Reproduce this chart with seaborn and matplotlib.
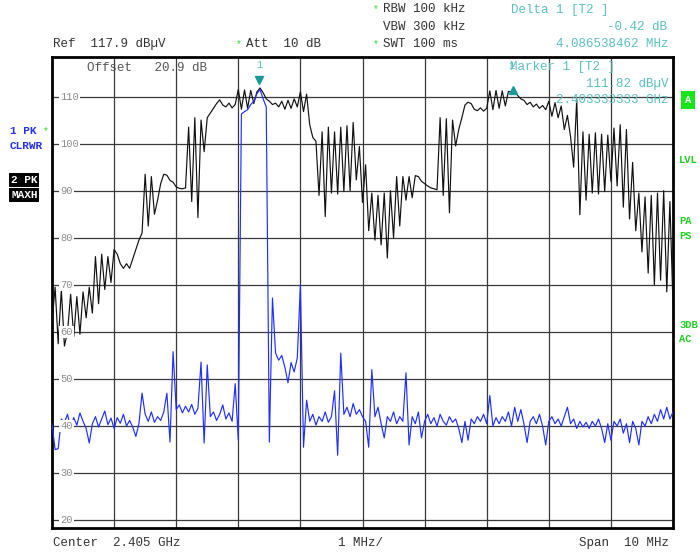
import numpy as np
import pandas as pd
import matplotlib
matplotlib.use("Agg")
import matplotlib.pyplot as plt
import seaborn as sns

sns.set_theme(style="white")
plt.rcParams['font.family'] = ['Liberation Mono', 'DejaVu Sans Mono']

# ---- sweep settings -------------------------------------------------------
center_ghz = 2.405
span_mhz = 10.0
n_points = 201
db_ticks = [110, 100, 90, 80, 70, 60, 50, 40, 30, 20]

# trace 2: peak detector, max hold (dBµV)
maxhold_dbuv = [
    62, 69.5, 57.5, 69, 57, 60, 68, 59, 67.5, 59.5,
    68.5, 63, 69.5, 64, 76, 66, 76.5, 69, 76, 70.5,
    77.5, 76.5, 74.5, 73.5, 74.5, 73.5, 75.5, 77.5, 79.5, 81,
    93.5, 82.5, 93, 85, 88, 91.5, 93.5, 93.3, 92.2, 91.8,
    90.8, 90.5, 90.4, 90.6, 103.5, 87.7, 105.5, 84.3, 105, 98.3,
    105.5, 106.5, 107.5, 108.5, 109.3, 108.2, 107.8, 108.6, 107.6, 108.3,
    111.5, 107.3, 111.4, 107.5, 111.3, 108.5, 111, 111.82, 110.8, 109.5,
    109, 108.3, 108.6, 107.8, 109, 107.3, 109.2, 107.5, 109.5, 107.8,
    111, 106.8, 110.5, 104, 101.3, 100.5, 89, 102.5, 84.5, 103.5,
    89.5, 102.5, 89.3, 103.5, 89.8, 103.8, 90, 104.5, 92.3, 99.4,
    87.5, 95.5, 81.5, 89.5, 79.5, 89, 78.5, 89.5, 75.7, 90,
    80, 93, 82.5, 93, 88, 93, 88.5, 93.2, 93, 92,
    91.5, 91, 90.6, 90.4, 90.2, 105.5, 89, 105.3, 85.3, 105,
    99.5, 103, 105.5, 108.2, 108.8, 108.5, 107.3, 107, 107.6, 106.9,
    107.5, 111.2, 107.2, 111.3, 107.5, 111.2, 108, 111.1, 110.9, 111.4,
    110.2, 109.5, 109.2, 108.3, 108.8, 107.8, 108.4, 107.5, 108.1, 107.2,
    109, 105.8, 108.7, 105.5, 108, 103, 106, 101.5, 95, 109.5,
    84.9, 102.5, 88, 102, 89.5, 102.3, 89.3, 102, 89.8, 101.8,
    92, 103.3, 91, 104, 86.5, 103, 84, 96, 81.5, 89.5,
    77, 88.7, 72.5, 89, 70, 89.5, 71, 90, 68.5, 87.7, 65.5,
]

# trace 1: peak detector, clear/write (dBµV)
clrwr_dbuv = [
    40.5, 35, 35.2, 41.5, 40.8, 42.5, 39.5, 41.8, 40.2, 42.8,
    41, 39.5, 36.4, 40.5, 42, 39.8, 41.5, 43.2, 40.3, 41.7,
    39.5, 41.8, 40.6, 42.5, 40, 41.2, 39.8, 37.8, 40.5, 47,
    42.5, 41, 43, 40.8, 42, 41.2, 43, 47, 36.6, 55.8,
    43.5, 44.5, 42.8, 44.2, 43, 44.6, 42.5, 43.8, 53.6, 36.4,
    53, 42, 43, 41.2, 42.5, 44.5, 41.5, 42.8, 41, 49,
    37, 106.3, 106.8, 107.2, 108.3, 109, 110.6, 111.5, 109.5, 107.8,
    36.6, 67.2, 55.5, 54, 55, 52.5, 49.2, 53.5, 51.5, 54.5,
    70, 35.5, 45.5, 41, 42.5, 40.2, 42, 41, 43, 40.8,
    42, 47.5, 33.8, 55.5, 42.5, 44, 42, 44.8, 42.5, 43.5,
    42, 41, 35.5, 52, 42, 44, 40.5, 37.5, 42, 41,
    43, 40.5, 42, 41, 51.3, 36, 42, 40.5, 43, 37.5,
    41, 42.5, 40.5, 41.8, 40, 42.5, 41, 40.2, 42, 40.8,
    41.5, 39.5, 36.5, 41, 37, 41.5, 40.5, 42, 41, 42.5,
    40.5, 46.5, 40, 41.8, 40.5, 42, 41, 43, 40, 44,
    41, 43.5, 40.5, 36.5, 41, 42, 40.5, 42.5, 40, 36,
    41, 42, 40.5, 41.5, 40, 42, 44, 40.5, 41.5, 39.5,
    41, 39.8, 40.8, 39.5, 41, 40, 41.5, 39.5, 36.5, 40.5,
    37, 41, 40, 41.5, 38.5, 40.5, 36.5, 41, 39.5, 36,
    41, 40, 42, 40.5, 42.5, 41, 43.5, 41.5, 44, 41.5, 43,
]

# marker readouts
marker1_mhz = 3.333333333      # 2.403333333 GHz
marker1_level = 111.82
delta1_mhz = 4.086538462
delta1_db = -0.42

freq_mhz = np.linspace(0.0, span_mhz, n_points)
df = pd.concat([
    pd.DataFrame({"f": freq_mhz, "level": clrwr_dbuv, "trace": "1 CLRWR"}),
    pd.DataFrame({"f": freq_mhz, "level": maxhold_dbuv, "trace": "2 MAXH"}),
])

W, H = 700, 553
fig = plt.figure(figsize=(W / 100, H / 100), dpi=100)
ax = fig.add_axes([52 / W, 25 / H, 621 / W, 471 / H])


def fx(px):
    return px / W


def fy(py):
    return 1 - py / H


# graticule
for k in range(1, 10):
    ax.axvline(k, color="#3a3a3a", lw=0.9, zorder=1)
for v in db_ticks:
    ax.axhline(v, color="#3a3a3a", lw=0.9, zorder=1)

sns.lineplot(data=df, x="f", y="level", hue="trace", sort=False,
             estimator=None, palette={"1 CLRWR": "#1f2fff", "2 MAXH": "#111111"},
             hue_order=["2 MAXH", "1 CLRWR"], lw=0.85, legend=False, ax=ax,
             zorder=3)

ax.set_xlim(0, span_mhz)
ax.set_ylim(18.35, 118.4)
ax.set_xticks([])
ax.set_yticks([])
ax.set_xlabel("")
ax.set_ylabel("")
for s in ax.spines.values():
    s.set_color("black")
    s.set_linewidth(2.0)

# level scale written inside the graticule
for v in db_ticks:
    ax.text(0.013, v, str(v), transform=ax.get_yaxis_transform(),
            ha="left", va="center", fontsize=7.5, color="#8a8a8a", zorder=4,
            bbox=dict(facecolor="white", edgecolor="none", pad=0.8))

# markers
teal_dark = "#169a9a"
teal_text = "#5cc0c0"
ax.plot([marker1_mhz], [marker1_level + 1.6], marker="v", ms=6,
        color=teal_dark, zorder=5)
ax.text(marker1_mhz, marker1_level + 4.8, "1", ha="center", va="center",
        fontsize=7.5, color=teal_text, zorder=5)
ax.plot([marker1_mhz + delta1_mhz], [marker1_level + delta1_db], marker="^",
        ms=6, color=teal_dark, zorder=5)
ax.text(marker1_mhz + delta1_mhz - 0.02, marker1_level + 4.7, "1",
        ha="center", va="center", fontsize=7.5, color=teal_text, zorder=5)

fs = 9
# readouts inside the graticule
fig.text(fx(87), fy(68), "Offset   20.9 dB", fontsize=fs, color="#555555",
         va="center", zorder=6)
fig.text(fx(510), fy(67), "Marker 1 [T2 ]", fontsize=fs, color=teal_text,
         va="center", zorder=6)
fig.text(fx(669), fy(84), f"{marker1_level:.2f} dBµV", fontsize=fs,
         color=teal_text, va="center", ha="right", zorder=6)
fig.text(fx(669), fy(100),
         f"{center_ghz - span_mhz / 2000 + marker1_mhz / 1000:.9f} GHz",
         fontsize=fs, color=teal_text, va="center", ha="right", zorder=6)

# header
hdr = dict(fontsize=fs, color="#333333", va="center")
green = "#22dd22"
fig.text(fx(53), fy(44), "Ref  117.9 dBµV", **hdr)
fig.text(fx(236), fy(44), "*", fontsize=7, color=green, va="center")
fig.text(fx(246), fy(44), "Att  10 dB", **hdr)
fig.text(fx(373), fy(9), "*", fontsize=7, color=green, va="center")
fig.text(fx(383), fy(9), "RBW 100 kHz", **hdr)
fig.text(fx(383), fy(27), "VBW 300 kHz", **hdr)
fig.text(fx(373), fy(44), "*", fontsize=7, color=green, va="center")
fig.text(fx(383), fy(44), "SWT 100 ms", **hdr)
fig.text(fx(511), fy(10), "Delta 1 [T2 ]", fontsize=fs, color=teal_text,
         va="center")
fig.text(fx(667), fy(27), f"{delta1_db:.2f} dB", fontsize=fs,
         color=teal_text, va="center", ha="right")
fig.text(fx(669), fy(44), f"{delta1_mhz:.9f} MHz", fontsize=fs,
         color=teal_text, va="center", ha="right")

# footer
fig.text(fx(53), fy(543), f"Center  {center_ghz:.3f} GHz", **hdr)
fig.text(fx(338), fy(543), "1 MHz/", **hdr)
fig.text(fx(669), fy(543), f"Span  {span_mhz:.0f} MHz", ha="right",
         fontsize=fs, color="#333333", va="center")

# trace annotations on the left
blue = "#2233ee"
fig.text(fx(10), fy(131), "1 PK", fontsize=8, color=blue, weight="bold",
         va="center")
fig.text(fx(43), fy(131), "*", fontsize=7, color=green, va="center")
fig.text(fx(10), fy(146), "CLRWR", fontsize=8, color=blue, weight="bold",
         va="center")
for txt, py in [("2 PK", 180), ("MAXH", 195)]:
    fig.text(fx(11), fy(py), txt, fontsize=8, color="white", weight="bold",
             va="center",
             bbox=dict(facecolor="black", edgecolor="none", pad=1.2))

# status flags on the right
fig.text(fx(688), fy(100), "A", fontsize=7.5, color="white", weight="bold",
         va="center", ha="center",
         bbox=dict(facecolor="#19e619", edgecolor="none",
                   boxstyle="square,pad=0.35"))
for txt, py in [("LVL", 160), ("PA", 221), ("PS", 236), ("3DB", 325),
                ("AC", 339)]:
    fig.text(fx(679), fy(py), txt, fontsize=7.5, color="#22cc22",
             weight="bold", va="center")

fig.savefig("out.png", dpi=100, facecolor="white")
